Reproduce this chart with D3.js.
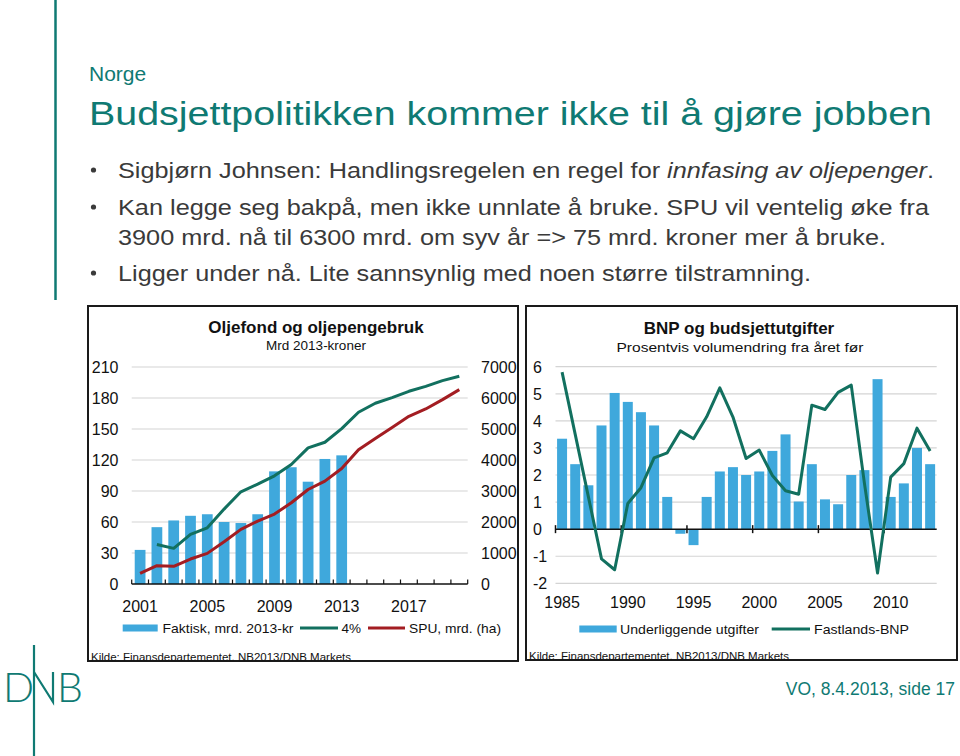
<!DOCTYPE html>
<html><head><meta charset="utf-8">
<script src="https://cdn.jsdelivr.net/npm/d3@7"></script>
<style>
html,body{margin:0;padding:0;background:#fff;}
svg{display:block;font-family:"Liberation Sans",Arial,sans-serif;}
</style></head>
<body>
<svg id="c" width="960" height="756"></svg>
<script>
// ---------- Data: left chart ----------
const oilYears = d3.range(2001, 2021).map(String);
const faktisk = [33, 55, 61.5, 66, 67.5, 60, 59, 67.5, 109, 113, 99, 121, 124.5];
const fourPct = [null, 38.3, 34.5, 48, 54.4, 72.5, 89.2, 96.6, 104.7, 115.6, 131.7, 137.2, 150.4, 166.2, 174.9, 180.4, 186.5, 191.3, 196.8, 201];
const spu = [343, 590, 569, 805, 988, 1363, 1761, 2029, 2255, 2620, 3049, 3317, 3725, 4327, 4692, 5046, 5411, 5647, 5948, 6270];
const leftTicks = [0, 30, 60, 90, 120, 150, 180, 210];
const rightTicks = [0, 1000, 2000, 3000, 4000, 5000, 6000, 7000];
const oilXLabels = ["2001", "2005", "2009", "2013", "2017"];

// ---------- Data: right chart ----------
const bnpYears = d3.range(1985, 2014).map(String);
const utgifter = [3.34, 2.4, 1.62, 3.83, 5.03, 4.7, 4.32, 3.83, 1.19, -0.17, -0.59, 1.19, 2.13, 2.29, 2.0, 2.13, 2.89, 3.5, 1.02, 2.4, 1.1, 0.92, 2.0, 2.18, 5.54, 1.19, 1.69, 3.0, 2.4];
const fastlandsBNP = [5.8, 3.5, 1.2, -1.1, -1.5, 0.95, 1.53, 2.63, 2.82, 3.63, 3.34, 4.15, 5.22, 4.14, 2.61, 2.92, 1.98, 1.42, 1.29, 4.58, 4.42, 5.05, 5.32, 1.7, -1.62, 1.92, 2.42, 3.73, 2.89];
const bnpTicks = [-2, -1, 0, 1, 2, 3, 4, 5, 6];
const bnpXLabels = ["1985", "1990", "1995", "2000", "2005", "2010"];

// ---------- Text ----------
const bullets = [
  [{t:"Sigbjørn Johnsen: Handlingsregelen en regel for "},{t:"innfasing av oljepenger",i:true},{t:"."}],
  [{t:"Kan legge seg bakpå, men ikke unnlate å bruke. SPU vil ventelig øke fra"}],
  [{t:"Ligger under nå. Lite sannsynlig med noen større tilstramning."}]
];

const TEAL = "#0f7a73", BAR = "#3fa8dc", LINE_T = "#12705f", LINE_R = "#a31d22", GRID = "#d4d4d4", TXT = "#3a3a3a";
const svg = d3.select("#c");

// ---------- Slide decorations ----------
svg.append("line").attr("x1",55.5).attr("x2",55.5).attr("y1",0).attr("y2",300).attr("stroke",TEAL).attr("stroke-width",2.5);
svg.append("text").attr("x",89).attr("y",81).attr("font-size",21).attr("fill",TEAL).text("Norge");
svg.append("text").attr("x",89).attr("y",125).attr("font-size",34).attr("fill",TEAL)
  .attr("textLength",843).attr("lengthAdjust","spacingAndGlyphs")
  .text("Budsjettpolitikken kommer ikke til å gjøre jobben");

const bl = [{y:178,w:816,b:true,k:0},{y:215,w:811,b:true,k:1},{y:245,w:768,b:false,k:-1},{y:281,w:693,b:true,k:2}];
bl.forEach(r=>{
  if(r.b) svg.append("circle").attr("cx",93.5).attr("cy",r.y-8).attr("r",2.6).attr("fill",TXT);
  const t = svg.append("text").attr("x",118).attr("y",r.y).attr("font-size",22).attr("fill",TXT)
    .attr("textLength",r.w).attr("lengthAdjust","spacingAndGlyphs");
  const parts = r.k>=0 ? bullets[r.k] : [{t:"3900 mrd. nå til 6300 mrd. om syv år => 75 mrd. kroner mer å bruke."}];
  parts.forEach(p=>t.append("tspan").attr("font-style",p.i?"italic":null).text(p.t));
});

// footer / logo
svg.append("text").attr("x",955).attr("y",695).attr("text-anchor","end").attr("font-size",17.5).attr("fill",TEAL).text("VO, 8.4.2013, side 17");
const logo = svg.append("g").attr("fill","none").attr("stroke",TEAL).attr("stroke-width",2.2);
logo.append("line").attr("x1",34).attr("x2",34).attr("y1",645).attr("y2",756);
logo.append("path").attr("d","M34,672 L53,702 L53,672");
svg.append("text").attr("x",3).attr("y",702).attr("font-size",41).attr("font-weight",300).attr("fill",TEAL)
  .attr("font-family","Lato, 'Liberation Sans', sans-serif").text("D");
svg.append("text").attr("x",57).attr("y",702).attr("font-size",41).attr("font-weight",300).attr("fill",TEAL)
  .attr("font-family","Lato, 'Liberation Sans', sans-serif").text("B");

// ---------- Frames ----------
function frame(x0,y0,x1,y1,id){
  svg.append("clipPath").attr("id",id).append("rect").attr("x",x0).attr("y",y0).attr("width",x1-x0).attr("height",y1-y0-0.5);
  svg.append("rect").attr("x",x0).attr("y",y0).attr("width",x1-x0).attr("height",y1-y0).attr("fill","#fff").attr("stroke","#1a1a1a").attr("stroke-width",2);
}
frame(88,306,518,661,"clipL");
frame(526,306,957,660,"clipR");

// ---------- Left chart ----------
{
  const g = svg.append("g");
  const x = d3.scaleBand().domain(oilYears).range([131.7,467.7]).paddingInner(0.36).paddingOuter(0.18);
  const xc = d => x(d)+x.bandwidth()/2;
  const yL = d3.scaleLinear().domain([0,210]).range([584,367]);
  const yR = d3.scaleLinear().domain([0,7000]).range([584,367]);

  g.append("text").attr("x",316).attr("y",333).attr("text-anchor","middle").attr("font-size",17).attr("font-weight","bold").attr("fill","#111").text("Oljefond og oljepengebruk");
  g.append("text").attr("x",316).attr("y",350).attr("text-anchor","middle").attr("font-size",13.5).attr("fill","#111").text("Mrd 2013-kroner");

  g.selectAll(".gl").data(leftTicks.filter(d=>d>0)).join("line")
    .attr("x1",131.7).attr("x2",467.7).attr("y1",d=>yL(d)).attr("y2",d=>yL(d)).attr("stroke",GRID).attr("stroke-width",1.2);
  g.selectAll(".ll").data(leftTicks).join("text").attr("x",118.5).attr("y",d=>yL(d)+6).attr("text-anchor","end")
    .attr("font-size",16).attr("fill","#111").text(d=>d);
  g.selectAll(".rl").data(rightTicks).join("text").attr("x",481).attr("y",d=>yR(d)+6).attr("text-anchor","start")
    .attr("font-size",16).attr("fill","#111").text(d=>d);

  g.selectAll(".bar").data(faktisk).join("rect")
    .attr("x",(d,i)=>x(oilYears[i])).attr("width",x.bandwidth())
    .attr("y",d=>yL(d)).attr("height",d=>yL(0)-yL(d)).attr("fill",BAR);

  const xa = d3.axisBottom(x).tickValues(oilXLabels).tickSize(0).tickFormat(d=>d);
  const ax = g.append("g").attr("transform","translate(0,584)").call(xa);
  ax.select(".domain").remove();
  ax.selectAll("text").attr("font-size",16).attr("fill","#111").attr("dy",0).attr("y",28).attr("font-family","Liberation Sans, Arial, sans-serif");
  g.append("line").attr("x1",131.7).attr("x2",467.7).attr("y1",584).attr("y2",584).attr("stroke","#111").attr("stroke-width",1.5);
  const bounds = oilYears.map(d=>x(d)-x.step()*x.paddingInner()/2).concat([467.7]);
  g.selectAll(".tk").data(bounds).join("line").attr("x1",d=>d).attr("x2",d=>d).attr("y1",584).attr("y2",579.5).attr("stroke","#111").attr("stroke-width",1.2);

  const lT = d3.line().defined(d=>d!=null).x((d,i)=>xc(oilYears[i])).y(d=>yL(d));
  const lR = d3.line().x((d,i)=>xc(oilYears[i])).y(d=>yR(d));
  g.append("path").attr("d",lT(fourPct)).attr("fill","none").attr("stroke",LINE_T).attr("stroke-width",3).attr("stroke-linejoin","round");
  g.append("path").attr("d",lR(spu)).attr("fill","none").attr("stroke",LINE_R).attr("stroke-width",3).attr("stroke-linejoin","round");

  const ly = 628;
  g.append("rect").attr("x",122.7).attr("y",ly-3.5).attr("width",35).attr("height",7).attr("fill",BAR);
  g.append("text").attr("x",162.5).attr("y",ly+5).attr("font-size",13.5).attr("fill","#111").attr("textLength",131).attr("lengthAdjust","spacingAndGlyphs").text("Faktisk, mrd. 2013-kr");
  g.append("line").attr("x1",300).attr("x2",338).attr("y1",ly).attr("y2",ly).attr("stroke",LINE_T).attr("stroke-width",3);
  g.append("text").attr("x",341.5).attr("y",ly+5).attr("font-size",13.5).attr("fill","#111").text("4%");
  g.append("line").attr("x1",368).attr("x2",405).attr("y1",ly).attr("y2",ly).attr("stroke",LINE_R).attr("stroke-width",3);
  g.append("text").attr("x",409).attr("y",ly+5).attr("font-size",13.5).attr("fill","#111").attr("textLength",92).attr("lengthAdjust","spacingAndGlyphs").text("SPU, mrd. (ha)");

  svg.append("text").attr("clip-path","url(#clipL)").attr("x",91).attr("y",661).attr("font-size",10.5).attr("fill","#111")
    .attr("textLength",260).attr("lengthAdjust","spacingAndGlyphs").text("Kilde: Finansdepartementet,   NB2013/DNB  Markets");
}

// ---------- Right chart ----------
{
  const g = svg.append("g");
  const x = d3.scaleBand().domain(bnpYears).range([555.5,936.7]).paddingInner(0.24).paddingOuter(0.12);
  const xc = d => x(d)+x.bandwidth()/2;
  const y = d3.scaleLinear().domain([-2,6]).range([583.3,366.7]);

  g.append("text").attr("x",739).attr("y",334).attr("text-anchor","middle").attr("font-size",17).attr("font-weight","bold").attr("fill","#111").text("BNP og budsjettutgifter");
  g.append("text").attr("x",740).attr("y",352).attr("text-anchor","middle").attr("font-size",13.5).attr("fill","#111")
    .attr("textLength",247).attr("lengthAdjust","spacingAndGlyphs").text("Prosentvis volumendring fra året før");

  g.selectAll(".gl").data(bnpTicks.filter(d=>d!==0)).join("line")
    .attr("x1",555.5).attr("x2",936.7).attr("y1",d=>y(d)).attr("y2",d=>y(d)).attr("stroke",GRID).attr("stroke-width",1.2);
  g.selectAll(".yl").data(bnpTicks).join("text").attr("x",533).attr("y",d=>y(d)+6).attr("font-size",16).attr("fill","#111").text(d=>d);

  g.selectAll(".bar").data(utgifter).join("rect")
    .attr("x",(d,i)=>x(bnpYears[i])).attr("width",x.bandwidth())
    .attr("y",d=>y(Math.max(0,d))).attr("height",d=>Math.abs(y(d)-y(0))).attr("fill",BAR);

  g.append("line").attr("x1",555.5).attr("x2",936.7).attr("y1",y(0)).attr("y2",y(0)).attr("stroke","#111").attr("stroke-width",1.5);
  const tb = [0,5,10,15,20,25].map(i=>x(bnpYears[i])-x.step()*x.paddingInner()/2);
  g.selectAll(".tk").data(tb).join("line").attr("x1",d=>d).attr("x2",d=>d).attr("y1",y(0)-4).attr("y2",y(0)+4).attr("stroke","#111").attr("stroke-width",1.5);

  const xa = d3.axisBottom(x).tickValues(bnpXLabels).tickSize(0);
  const ax = g.append("g").attr("transform","translate(0,583.3)").call(xa);
  ax.select(".domain").remove();
  ax.selectAll("text").attr("font-size",16).attr("fill","#111").attr("dy",0).attr("y",25).attr("font-family","Liberation Sans, Arial, sans-serif");

  const ln = d3.line().x((d,i)=>xc(bnpYears[i])).y(d=>y(d));
  g.append("path").attr("d",ln(fastlandsBNP)).attr("fill","none").attr("stroke",LINE_T).attr("stroke-width",3).attr("stroke-linejoin","round");

  const ly = 629;
  g.append("rect").attr("x",579.3).attr("y",ly-3.5).attr("width",37.4).attr("height",7).attr("fill",BAR);
  g.append("text").attr("x",620).attr("y",ly+5).attr("font-size",13.5).attr("fill","#111").attr("textLength",139).attr("lengthAdjust","spacingAndGlyphs").text("Underliggende utgifter");
  g.append("line").attr("x1",771.7).attr("x2",810).attr("y1",ly).attr("y2",ly).attr("stroke",LINE_T).attr("stroke-width",3);
  g.append("text").attr("x",814).attr("y",ly+5).attr("font-size",13.5).attr("fill","#111").attr("textLength",95).attr("lengthAdjust","spacingAndGlyphs").text("Fastlands-BNP");

  svg.append("text").attr("clip-path","url(#clipR)").attr("x",529).attr("y",660).attr("font-size",10.5).attr("fill","#111")
    .attr("textLength",260).attr("lengthAdjust","spacingAndGlyphs").text("Kilde: Finansdepartementet,   NB2013/DNB  Markets");
}
</script>
</body></html>
